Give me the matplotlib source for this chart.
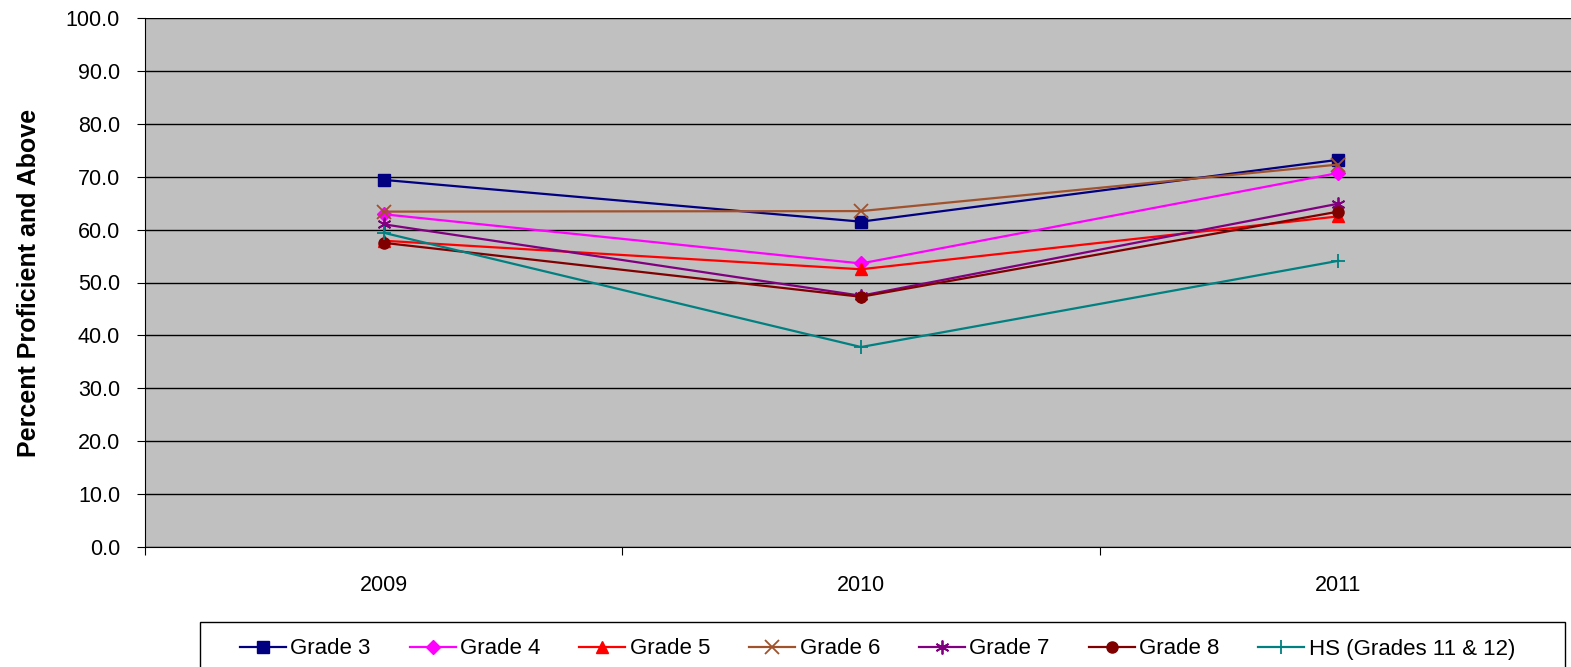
import numpy as np
import matplotlib.pyplot as plt
from matplotlib.patches import Rectangle

plt.rcParams['font.family'] = ['Liberation Sans', 'DejaVu Sans']

# Datos
years = ['2009', '2010', '2011']
grade3 = [69.4, 61.5, 73.2]
grade4 = [62.9, 53.6, 70.7]
grade5 = [57.9, 52.5, 62.5]
grade6 = [63.4, 63.5, 72.3]
grade7 = [61.0, 47.5, 64.9]
grade8 = [57.5, 47.3, 63.4]
hs = [59.4, 37.8, 54.1]

series = [
    ('Grade 3', grade3, '#000080', 's'),
    ('Grade 4', grade4, '#FF00FF', 'D'),
    ('Grade 5', grade5, '#FF0000', '^'),
    ('Grade 6', grade6, '#A0522D', 'x'),
    ('Grade 7', grade7, '#800080', (6, 2, 0)),
    ('Grade 8', grade8, '#800000', 'o'),
    ('HS (Grades 11 & 12)', hs, '#008080', '+'),
]

fig = plt.figure(figsize=(15.71, 6.67), dpi=100)
ax = fig.add_axes([145 / 1571, 1 - 547 / 667, 1432 / 1571, 529 / 667])
ax.set_facecolor('#C0C0C0')

x = np.arange(len(years))
for nombre, vals, color, marker in series:
    size = 8
    if marker == 'D':
        size = 7
    if marker in ('x', '+', (6, 2, 0)):
        size = 10
    ax.plot(x, vals, color=color, marker=marker, markersize=size, linewidth=1.6,
            markeredgewidth=1.3 if marker in ('x', '+', (6, 2, 0)) else 1,
            label=nombre, zorder=3)

ax.set_xlim(-0.5, 2.5)
ax.set_ylim(0, 100)
ax.set_yticks(np.arange(0, 101, 10))
ax.set_yticklabels(['%.1f' % v for v in np.arange(0, 101, 10)], fontsize=15.5)
ax.yaxis.grid(True, color='black', linewidth=1)
ax.set_axisbelow(True)

# ticks en los bordes de categoria, etiquetas centradas
ax.set_xticks([-0.5, 0.5, 1.5, 2.5])
ax.set_xticklabels([])
ax.set_xticks(x, minor=True)
ax.set_xticklabels(years, minor=True, fontsize=15.5)
ax.tick_params(axis='x', which='minor', length=0, pad=20)
ax.tick_params(axis='x', which='major', length=6, direction='out')
ax.tick_params(axis='y', length=6, direction='out', pad=12)

for lado in ['top', 'right']:
    ax.spines[lado].set_visible(False)
ax.spines['left'].set_color('black')
ax.spines['bottom'].set_color('black')

ax.set_ylabel('Percent Proficient and Above', fontsize=18, fontweight='bold', labelpad=18)

# marco de la leyenda (se sale por abajo de la figura)
marco = Rectangle((200 / 1571, -0.02), 1365 / 1571, (667 - 622) / 667 + 0.02,
                  transform=fig.transFigure, facecolor='white', edgecolor='black',
                  linewidth=1)
fig.patches.append(marco)

leg = fig.legend(loc='center left', bbox_to_anchor=(240 / 1571, 1 - 649 / 667), ncol=7,
                 fontsize=16, frameon=False, handlelength=2.07, handletextpad=0.2,
                 columnspacing=1.75, borderpad=0, borderaxespad=0)

fig.savefig('out.png', dpi=100)
